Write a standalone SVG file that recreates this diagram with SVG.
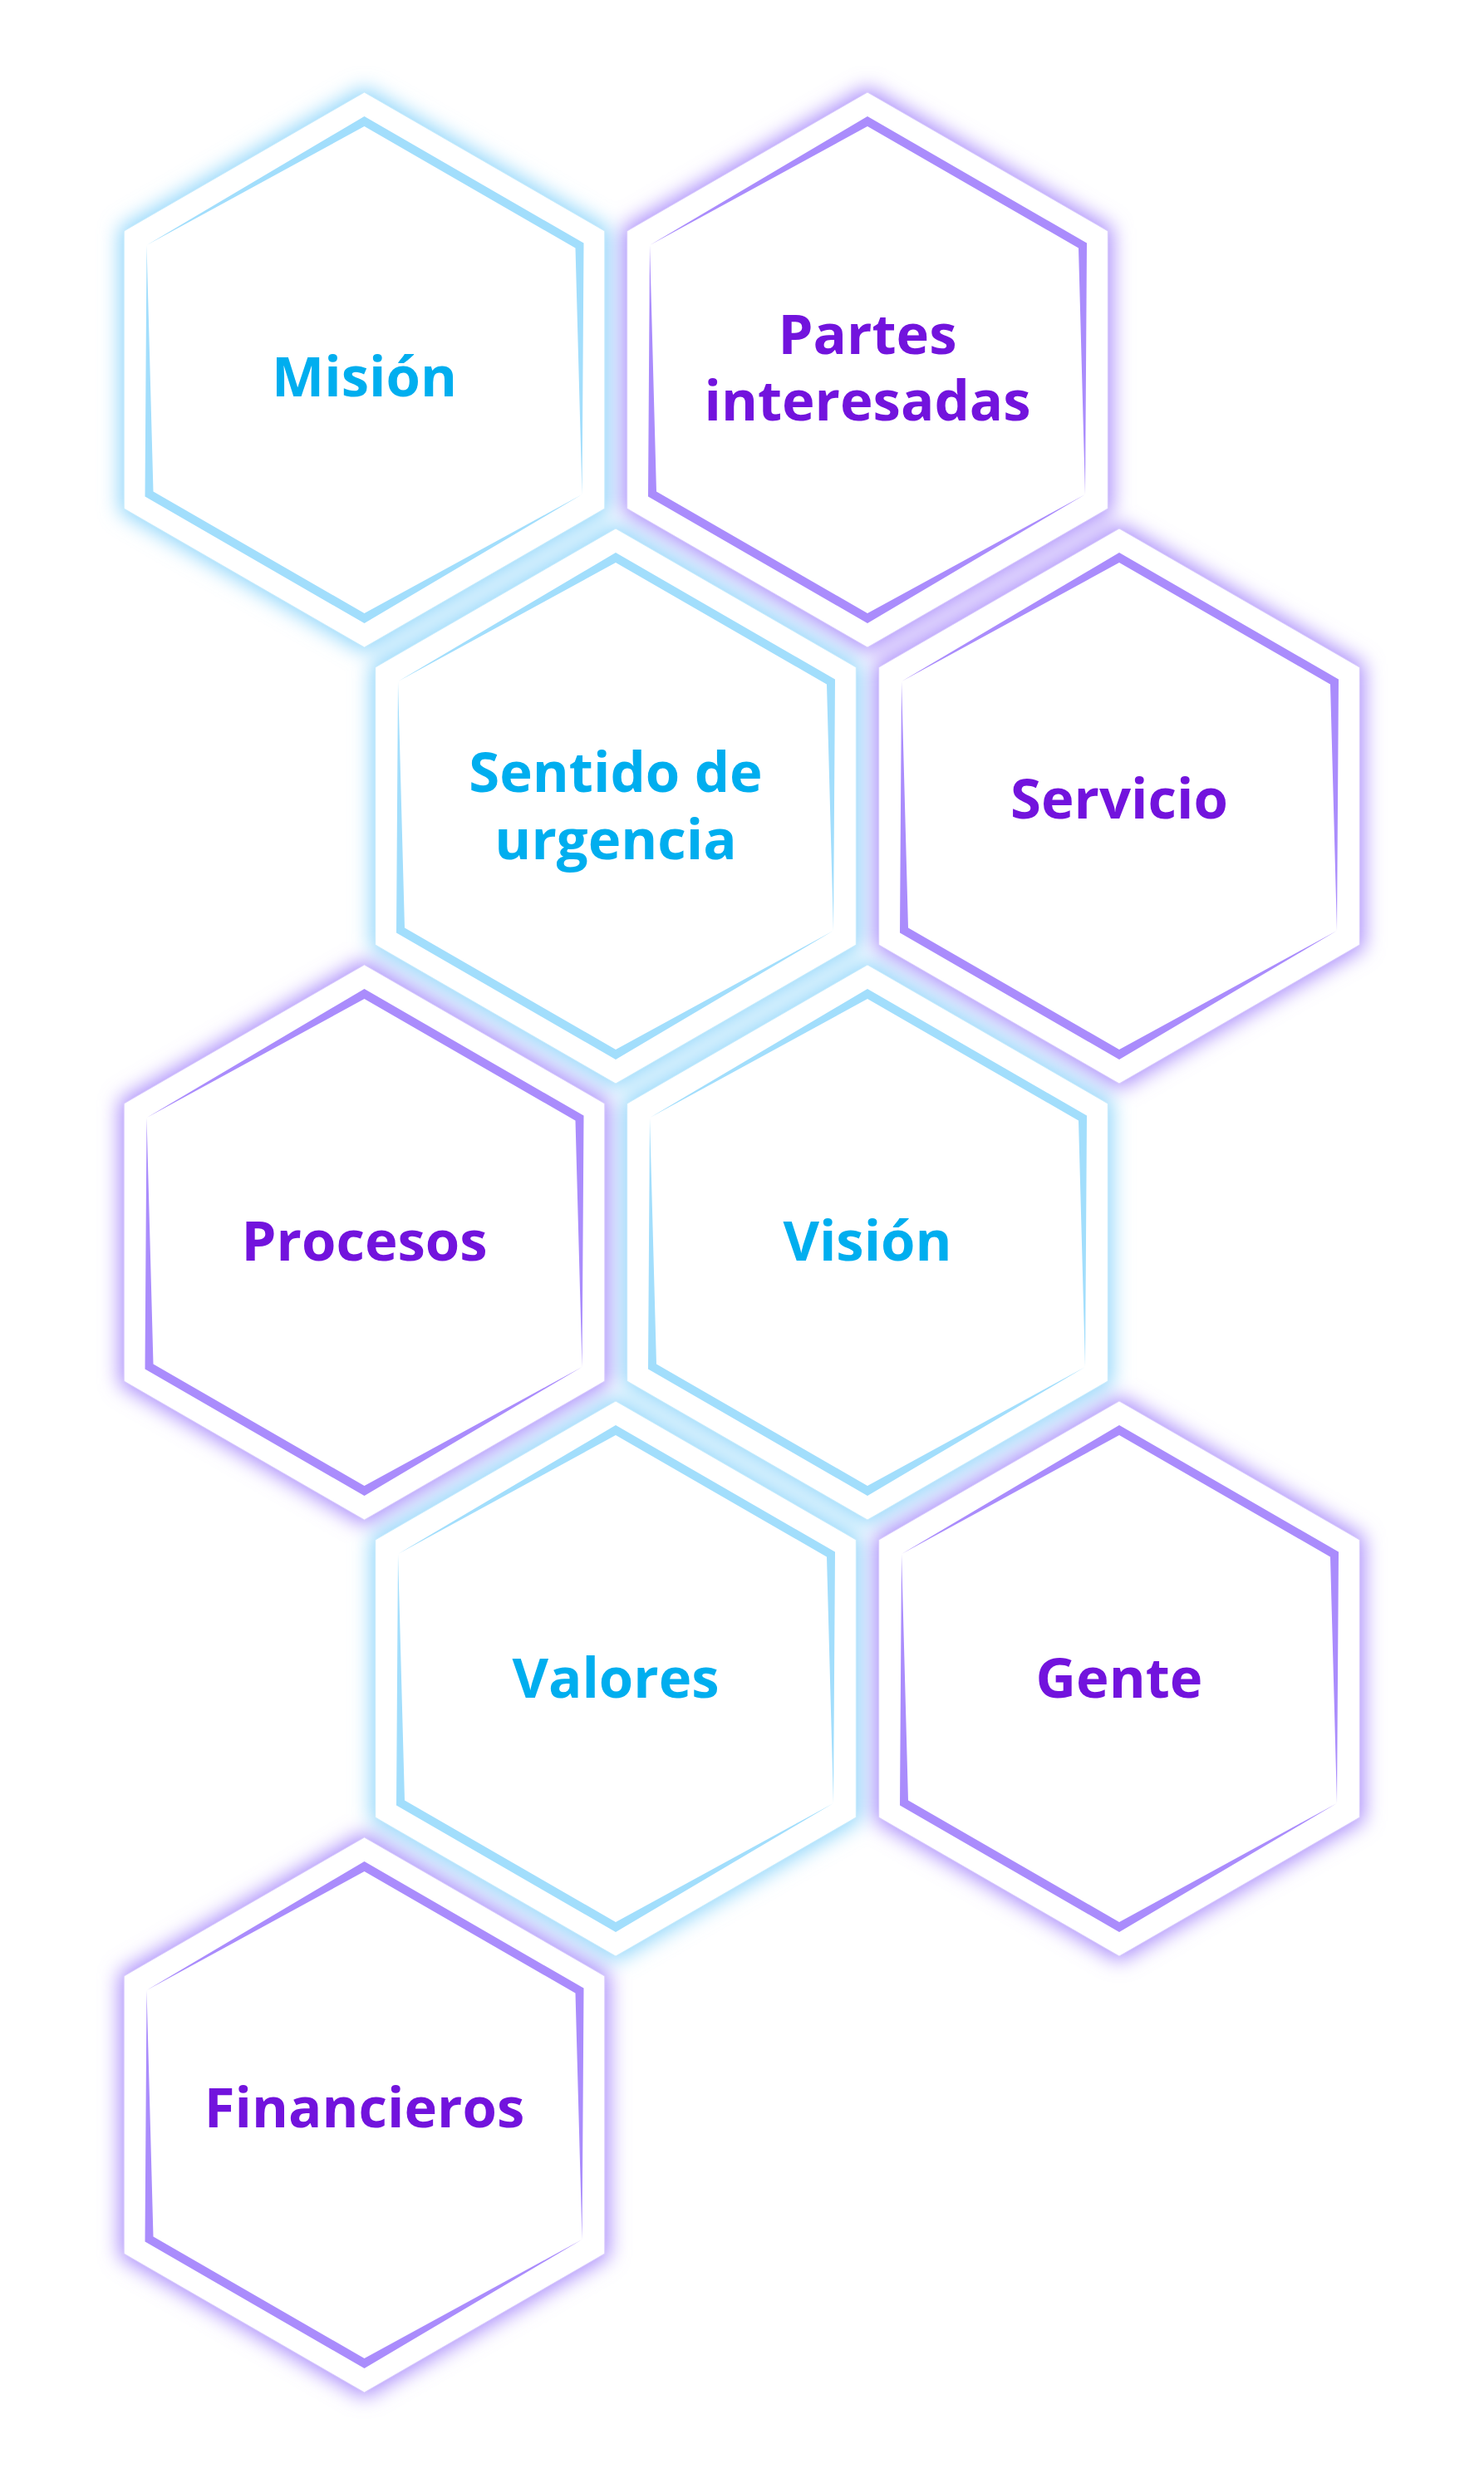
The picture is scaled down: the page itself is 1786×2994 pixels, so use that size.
<svg xmlns="http://www.w3.org/2000/svg" xmlns:xlink="http://www.w3.org/1999/xlink" width="1786" height="2994" viewBox="0 0 1786 2994">
<style>
.gc{fill:#8fd6fb}
.gp{fill:#a98bfb}
.wh{fill:#ffffff}
.wc{stroke:#c8ebfc;stroke-width:1}
.wp{stroke:#d9cdfc;stroke-width:1}
.rc{fill:#a2defc}
.rp{fill:#aa8cfc}
text{font-family:"Open Sans","Noto Sans","Liberation Sans",sans-serif;font-weight:700;font-size:67px;text-anchor:middle}
.tc{fill:#00aeef}
.tp{fill:#7213dd}
</style>
<defs>
<filter id="blur" x="-30%" y="-30%" width="160%" height="160%"><feGaussianBlur stdDeviation="12"/></filter>
<path id="hexGlow" d="M0,-340 L294.4,-170 L294.4,170 L0,340 L-294.4,170 L-294.4,-170 Z"/>
<path id="hexOuter" d="M0,-334 L289.3,-167 L289.3,167 L0,334 L-289.3,167 L-289.3,-167 Z"/>
<path id="ring" fill-rule="evenodd" d="M0,-305 L264,-152.5 L262,150 L0,305 L-264,152.5 L-262,-150 Z M0,-293 L254,-146.5 L262,150 L0,293 L-254,146.5 L-262,-150 Z"/>
</defs>
<rect width="1786" height="2994" fill="#ffffff"/>
<g id="glows" filter="url(#blur)">
<use xlink:href="#hexGlow" class="gc" x="438.5" y="445"/>
<use xlink:href="#hexGlow" class="gp" x="1044" y="445"/>
<use xlink:href="#hexGlow" class="gc" x="741" y="970"/>
<use xlink:href="#hexGlow" class="gp" x="1347" y="970"/>
<use xlink:href="#hexGlow" class="gp" x="438.5" y="1495"/>
<use xlink:href="#hexGlow" class="gc" x="1044" y="1495"/>
<use xlink:href="#hexGlow" class="gc" x="741" y="2020"/>
<use xlink:href="#hexGlow" class="gp" x="1347" y="2020"/>
<use xlink:href="#hexGlow" class="gp" x="438.5" y="2545"/>
</g>
<g id="connectors"></g>
<g id="mision" transform="translate(438.5,445)">
<use xlink:href="#hexOuter" class="wh wc"/>
<use xlink:href="#ring" class="rc"/>
<text class="tc" x="0" y="31.7">Misión</text>
</g>
<g id="partes-interesadas" transform="translate(1044,445)">
<use xlink:href="#hexOuter" class="wh wp"/>
<use xlink:href="#ring" class="rp"/>
<text class="tp" x="0" y="-19">Partes</text>
<text class="tp" x="0" y="61">interesadas</text>
</g>
<g id="sentido-de-urgencia" transform="translate(741,970)">
<use xlink:href="#hexOuter" class="wh wc"/>
<use xlink:href="#ring" class="rc"/>
<text class="tc" x="0" y="-17">Sentido de</text>
<text class="tc" x="0" y="64">urgencia</text>
</g>
<g id="servicio" transform="translate(1347,970)">
<use xlink:href="#hexOuter" class="wh wp"/>
<use xlink:href="#ring" class="rp"/>
<text class="tp" x="0" y="15">Servicio</text>
</g>
<g id="procesos" transform="translate(438.5,1495)">
<use xlink:href="#hexOuter" class="wh wp"/>
<use xlink:href="#ring" class="rp"/>
<text class="tp" x="0" y="22">Procesos</text>
</g>
<g id="vision" transform="translate(1044,1495)">
<use xlink:href="#hexOuter" class="wh wc"/>
<use xlink:href="#ring" class="rc"/>
<text class="tc" x="0" y="22">Visión</text>
</g>
<g id="valores" transform="translate(741,2020)">
<use xlink:href="#hexOuter" class="wh wc"/>
<use xlink:href="#ring" class="rc"/>
<text class="tc" x="0" y="23">Valores</text>
</g>
<g id="gente" transform="translate(1347,2020)">
<use xlink:href="#hexOuter" class="wh wp"/>
<use xlink:href="#ring" class="rp"/>
<text class="tp" x="0" y="23">Gente</text>
</g>
<g id="financieros" transform="translate(438.5,2545)">
<use xlink:href="#hexOuter" class="wh wp"/>
<use xlink:href="#ring" class="rp"/>
<text class="tp" x="0" y="14.5">Financieros</text>
</g>
</svg>
